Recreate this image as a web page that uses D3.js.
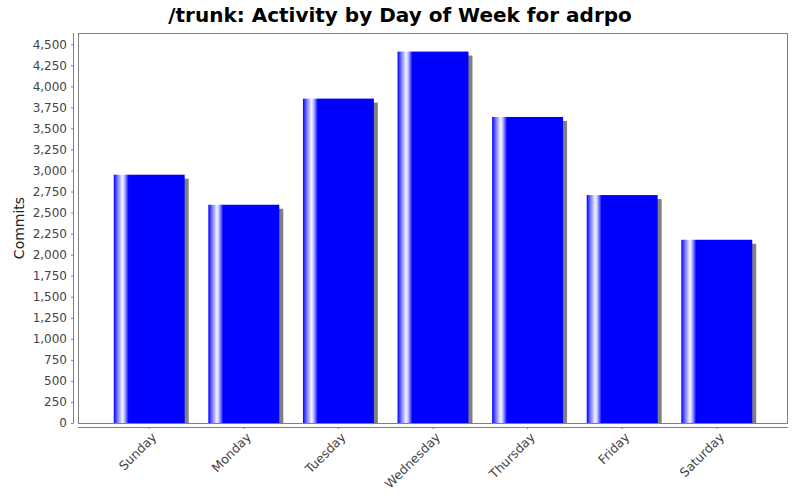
<!DOCTYPE html>
<html><head><meta charset="utf-8">
<script src="https://cdn.jsdelivr.net/npm/d3@7"></script>
<style>body{margin:0;background:#fff}svg{display:block}text{font-family:"DejaVu Sans",sans-serif}</style>
</head><body>
<script>
const days = ["Sunday","Monday","Tuesday","Wednesday","Thursday","Friday","Saturday"];
const commits = [2950, 2593, 3854, 4413, 3636, 2708, 2177];
const yTicks = [0,250,500,750,1000,1250,1500,1750,2000,2250,2500,2750,3000,3250,3500,3750,4000,4250,4500];
const title = "/trunk: Activity by Day of Week for adrpo";
const yLabel = "Commits";

const W=800,H=500, L=78,R=788,T=33,B=423;
const svg=d3.select("body").append("svg").attr("width",W).attr("height",H);
const x=d3.scaleBand().domain(days).range([L,R]).paddingInner(0.25).paddingOuter(0.378);
const y=d3.scaleLinear().domain([0,d3.max(commits)*1.05]).range([B,T]);

const defs=svg.append("defs");
const g=defs.append("linearGradient").attr("id","bg").attr("x1","0").attr("x2","1").attr("y1","0").attr("y2","0");
[[0,"#0000ff"],[0.05,"#7070ff"],[0.12,"#f4f4ff"],[0.15,"#c0c0ff"],[0.21,"#0000ff"],[1,"#0000ff"]].forEach(s=>g.append("stop").attr("offset",s[0]).attr("stop-color",s[1]));
defs.append("clipPath").attr("id","pc").append("rect").attr("x",L).attr("y",T).attr("width",R-L).attr("height",B-T);

svg.append("text").attr("x",400).attr("y",22).attr("text-anchor","middle").attr("font-size",20).attr("font-weight","bold").text(title);

const plot=svg.append("g").attr("clip-path","url(#pc)");
plot.selectAll(".sh").data(commits).join("rect").attr("fill","#808080")
  .attr("x",(d,i)=>x(days[i])+4).attr("y",d=>y(d)+4).attr("width",x.bandwidth()).attr("height",d=>B-y(d));
plot.selectAll(".bar").data(commits).join("rect").attr("fill","url(#bg)")
  .attr("x",(d,i)=>x(days[i])).attr("y",d=>y(d)).attr("width",x.bandwidth()).attr("height",d=>B-y(d));

svg.append("rect").attr("x",L+0.5).attr("y",T+0.5).attr("width",R-L-1).attr("height",B-T).attr("fill","none").attr("stroke","#808080");

// y axis
const ya=svg.append("g").attr("transform","translate(73,0)")
  .call(d3.axisLeft(y).tickValues(yTicks).tickSize(2).tickPadding(4).tickFormat(d3.format(",")));
ya.select(".domain").attr("stroke","#808080").attr("d",`M0.5,${T}V${B+0.5}`);
ya.selectAll(".tick line").attr("stroke","#808080");
ya.selectAll("text").attr("font-size",12).attr("fill","#444").attr("font-family","DejaVu Sans");

// x axis
const xa=svg.append("g").attr("transform","translate(0,427)")
  .call(d3.axisBottom(x).tickSize(2).tickPadding(3));
xa.select(".domain").attr("stroke","#808080").attr("d",`M${L},0.5H${R}`);
xa.selectAll(".tick line").attr("stroke","#808080");
xa.selectAll("text").attr("font-size",12.5).attr("fill","#444").attr("font-family","DejaVu Sans")
  .attr("text-anchor","end").attr("dy","0.35em").attr("transform","translate(5,8) rotate(-45)").attr("y",0).attr("x",0);

svg.append("text").attr("transform","translate(24,228) rotate(-90)").attr("text-anchor","middle")
  .attr("font-size",14).attr("fill","#222").text(yLabel);
</script>
</body></html>
